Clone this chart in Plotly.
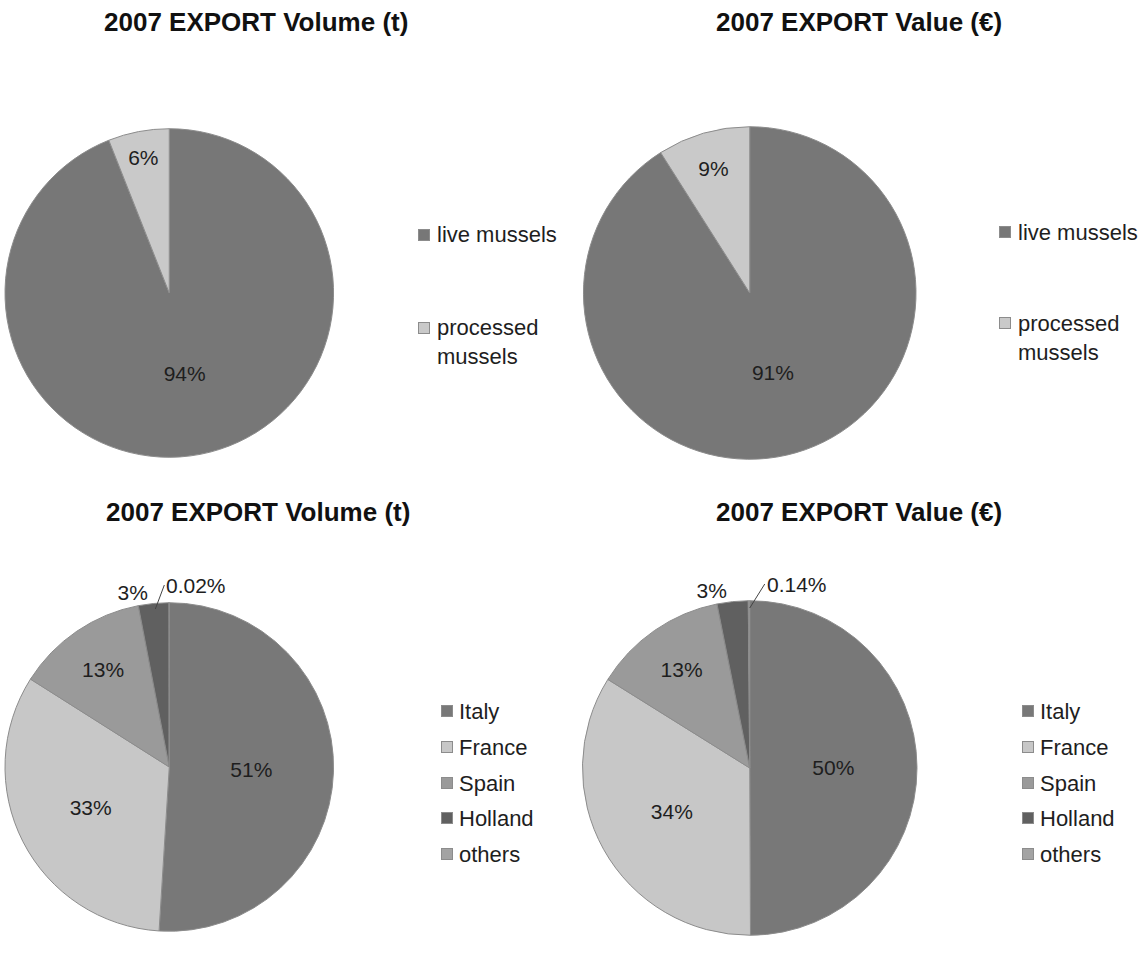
import plotly.graph_objects as go

W, H = 1146, 960

product_labels = ["live mussels", "processed<br>mussels"]
product_volume = [94, 6]
product_value = [91, 9]

country_labels = ["Italy", "France", "Spain", "Holland", "others"]
country_volume = [51, 33, 13, 3, 0.02]
country_value = [50, 34, 13, 3, 0.14]

titles = ["2007 EXPORT Volume (t)", "2007 EXPORT Value (€)",
          "2007 EXPORT Volume (t)", "2007 EXPORT Value (€)"]

product_colors = ["#777777", "#c9c9c9"]
country_colors = ["#787878", "#c7c7c7", "#9a9a9a", "#606060", "#a3a3a3"]

FONT = "Liberation Sans, Arial, sans-serif"
TXT = "#1e1e1e"
XOFF = 4  # observed horizontal page offset


def px(x):
    return (x - XOFF) / W


def py(y):
    return 1 - y / H


def dom(cx, cy, r):
    return dict(x=[max(0, px(cx - r)), min(1, px(cx + r))],
                y=[max(0, py(cy + r)), min(1, py(cy - r))])


def pct(v):
    return f"{v:g}%"


fig = go.Figure()

pies = [
    (product_labels, product_volume, product_colors, dom(169, 293, 165), ["inside", "inside"]),
    (product_labels, product_value, product_colors, dom(752, 293, 167), ["inside", "inside"]),
    (country_labels, country_volume, country_colors, dom(169, 767, 165),
     ["inside", "inside", "inside", "outside", "none"]),
    (country_labels, country_value, country_colors, dom(752, 768, 168),
     ["inside", "inside", "inside", "outside", "none"]),
]

for labels, vals, cols, d, tpos in pies:
    fig.add_trace(go.Pie(
        labels=labels, values=vals, text=[pct(v) for v in vals], textinfo="text",
        sort=False, direction="clockwise", rotation=0,
        marker=dict(colors=cols, line=dict(color="#8c8c8c", width=1)),
        domain=d, textposition=tpos, showlegend=False,
        insidetextorientation="horizontal",
        textfont=dict(family=FONT, size=21, color=TXT),
        hoverinfo="label+percent",
    ))

# titles
title_pos = [(256, 22), (862, 22), (258, 512), (862, 512)]
for t, (x, y) in zip(titles, title_pos):
    fig.add_annotation(text=f"<b>{t}</b>", x=px(x), y=py(y), xref="paper", yref="paper",
                       xanchor="center", yanchor="middle", showarrow=False,
                       font=dict(family=FONT, size=26, color="#111111"))

# small-slice labels with leader lines
fig.add_annotation(text=pct(country_volume[4]), x=px(155), y=py(609), xref="paper", yref="paper",
                   ax=9, ay=-24, showarrow=True, arrowhead=0, arrowwidth=1, arrowcolor="#444444",
                   font=dict(family=FONT, size=21, color=TXT), standoff=0, startstandoff=0,
                   xanchor="left", yanchor="middle")
fig.add_annotation(text=pct(country_value[4]), x=px(752), y=py(608), xref="paper", yref="paper",
                   ax=15, ay=-24, showarrow=True, arrowhead=0, arrowwidth=1, arrowcolor="#444444",
                   font=dict(family=FONT, size=21, color=TXT), standoff=0, startstandoff=0,
                   xanchor="left", yanchor="middle")


# custom legends (one per pie)
def legend(labels, colors, sq_x, ys, text_x):
    for lab, col, y in zip(labels, colors, ys):
        nlines = lab.count("<br>") + 1
        fig.add_annotation(text=" ", x=px(sq_x), y=py(y), xref="paper", yref="paper",
                           xanchor="left", yanchor="middle", showarrow=False,
                           width=10, height=10, borderpad=0, bgcolor=col,
                           bordercolor="#8c8c8c", borderwidth=1, font=dict(size=4))
        fig.add_annotation(text=lab, x=px(text_x), y=py(y + (nlines - 1) * 14.5), xref="paper",
                           yref="paper", xanchor="left", yanchor="middle", align="left",
                           showarrow=False, font=dict(family=FONT, size=22, color=TXT))


legend(product_labels, product_colors, 419, [235, 328], 436)
legend(product_labels, product_colors, 1002, [232, 323], 1019)
legend(country_labels, country_colors, 442, [711, 747, 783, 818, 854], 458)
legend(country_labels, country_colors, 1025, [711, 747, 783, 818, 854], 1042)

fig.update_layout(
    width=W, height=H, margin=dict(l=0, r=0, t=0, b=0),
    paper_bgcolor="white", plot_bgcolor="white", showlegend=False,
)

fig.write_html("out.html", config={"displayModeBar": False},
               post_script="document.body.style.margin='0';")
